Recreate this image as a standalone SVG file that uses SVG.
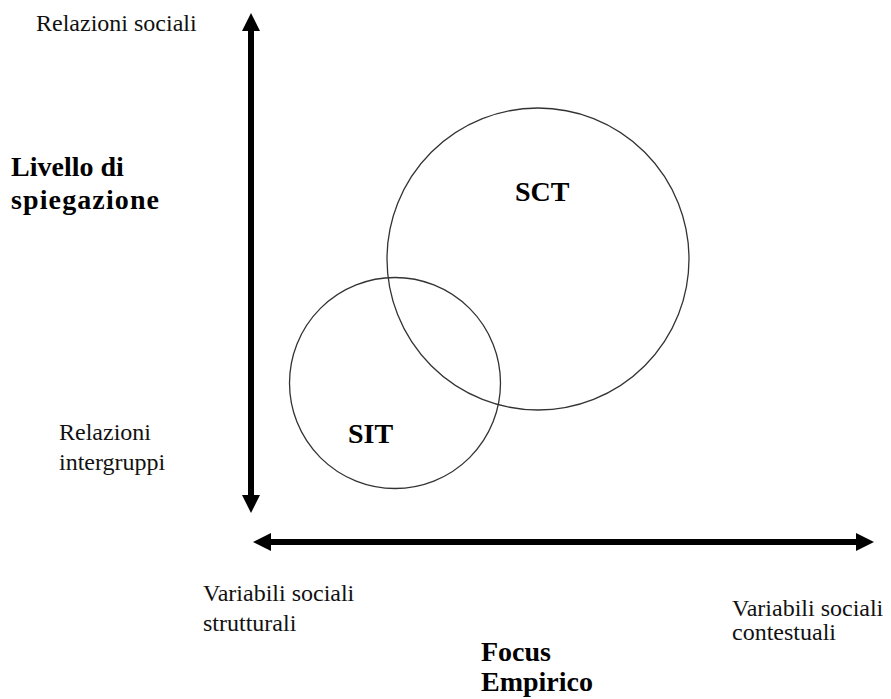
<svg xmlns="http://www.w3.org/2000/svg" width="891" height="699" viewBox="0 0 891 699">
  <style>
    .lbl { font-family: "Liberation Serif", "Times New Roman", serif; font-size: 24px; fill: #111; }
    .bold { font-family: "Liberation Serif", "Times New Roman", serif; font-size: 28px; font-weight: bold; fill: #000; }
    .axis { stroke: #000; stroke-width: 6; fill: none; marker-start: url(#ah); marker-end: url(#ah); }
    .circ { fill: none; stroke: #333; stroke-width: 1.3; }
  </style>
  <defs>
    <marker id="ah" viewBox="0 0 18 18" refX="1" refY="9" markerWidth="18" markerHeight="18" markerUnits="userSpaceOnUse" orient="auto-start-reverse">
      <path d="M0,0 L18,9 L0,18 Z" fill="#000"/>
    </marker>
  </defs>
  <rect width="891" height="699" fill="#fff"/>

  <g id="connectors">
    <line class="axis" x1="251" y1="30" x2="251" y2="496"/>
    <line class="axis" x1="270" y1="542" x2="857" y2="542"/>
  </g>

  <g id="node-sct">
    <circle class="circ" cx="538" cy="259" r="151"/>
    <text class="bold" x="515" y="201">SCT</text>
  </g>
  <g id="node-sit">
    <circle class="circ" cx="395" cy="383" r="105.5"/>
    <text class="bold" x="348" y="443">SIT</text>
  </g>

  <g id="label-relazioni-sociali">
    <text class="lbl" x="36" y="31">Relazioni sociali</text>
  </g>
  <g id="label-livello">
    <text class="bold" x="11" y="176">Livello di</text>
    <text class="bold" x="11" y="209" textLength="148" lengthAdjust="spacing">spiegazione</text>
  </g>
  <g id="label-relazioni-intergruppi">
    <text class="lbl" x="59" y="440">Relazioni</text>
    <text class="lbl" x="59" y="470">intergruppi</text>
  </g>
  <g id="label-strutturali">
    <text class="lbl" x="203" y="601">Variabili sociali</text>
    <text class="lbl" x="203" y="631">strutturali</text>
  </g>
  <g id="label-contestuali">
    <text class="lbl" x="732" y="616">Variabili sociali</text>
    <text class="lbl" x="732" y="640">contestuali</text>
  </g>
  <g id="label-focus">
    <text class="bold" x="481" y="661">Focus</text>
    <text class="bold" x="481" y="691">Empirico</text>
  </g>
</svg>
